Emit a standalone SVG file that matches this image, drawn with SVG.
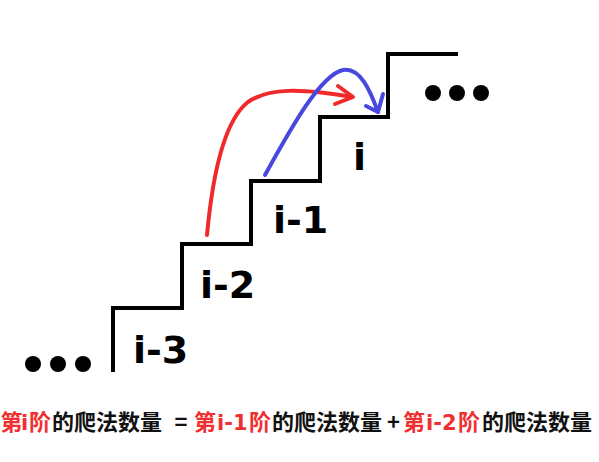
<svg xmlns="http://www.w3.org/2000/svg" width="599" height="462" viewBox="0 0 599 462">
<style>
.stair{fill:none;stroke:#000;stroke-width:4;stroke-linejoin:miter}
.lbl{font-family:"DejaVu Sans",sans-serif;font-weight:bold;font-size:38px;fill:#000}
.dot{fill:#000}
.red{fill:none;stroke:#f02a2a;stroke-width:4;stroke-linecap:round;stroke-linejoin:round}
.blue{fill:none;stroke:#4848e0;stroke-width:4;stroke-linecap:round;stroke-linejoin:round}
.cap{font-family:"Noto Sans CJK SC","Noto Sans",sans-serif;font-weight:bold;font-size:22px;fill:#111}
.lat{font-family:"DejaVu Sans",sans-serif;font-size:21px}
.r{fill:#f03030}
</style>
<rect width="599" height="462" fill="#fff"/>
<g id="stairs">
<path class="stair" d="M113,372 V308 H182 V244 H251 V181 H320 V117 H388 V54 H458"/>
</g>
<g id="step-i-3"><text class="lbl" x="133" y="363">i-3</text></g>
<g id="step-i-2"><text class="lbl" x="200" y="298">i-2</text></g>
<g id="step-i-1"><text class="lbl" x="273" y="233">i-1</text></g>
<g id="step-i"><text class="lbl" x="353" y="170">i</text></g>
<g id="dots-left">
<circle class="dot" cx="33" cy="364" r="8"/>
<circle class="dot" cx="58" cy="364" r="8"/>
<circle class="dot" cx="83" cy="364" r="8"/>
</g>
<g id="dots-right">
<circle class="dot" cx="433" cy="93" r="8"/>
<circle class="dot" cx="457" cy="93" r="8"/>
<circle class="dot" cx="481" cy="93" r="8"/>
</g>
<g id="connectors">
<path class="red" d="M207,235 C213,170 225,120 248,102 C268,88 300,88 352,97"/>
<path class="red" d="M338,86 L353,97 L335,104"/>
<path class="blue" d="M265,175 C290,130 320,75 343,70 C360,67 370,90 378,112"/>
<path class="blue" d="M366,106 L378,112 L383,94"/>
</g>
<g id="caption">
<text class="cap r" y="430"><tspan x="0.5">第</tspan><tspan class="lat" x="21">i</tspan><tspan x="29">阶</tspan></text>
<text class="cap" x="52" y="430">的爬法数量</text>
<text class="cap" x="181" y="430" text-anchor="middle">=</text>
<text class="cap r" y="430"><tspan x="194">第</tspan><tspan class="lat" x="217">i-1</tspan><tspan x="249">阶</tspan></text>
<text class="cap" x="272" y="430">的爬法数量</text>
<text class="cap" x="387" y="430">+</text>
<text class="cap r" y="430"><tspan x="403">第</tspan><tspan class="lat" x="426">i-2</tspan><tspan x="458">阶</tspan></text>
<text class="cap" x="482" y="430">的爬法数量</text>
</g>
</svg>
